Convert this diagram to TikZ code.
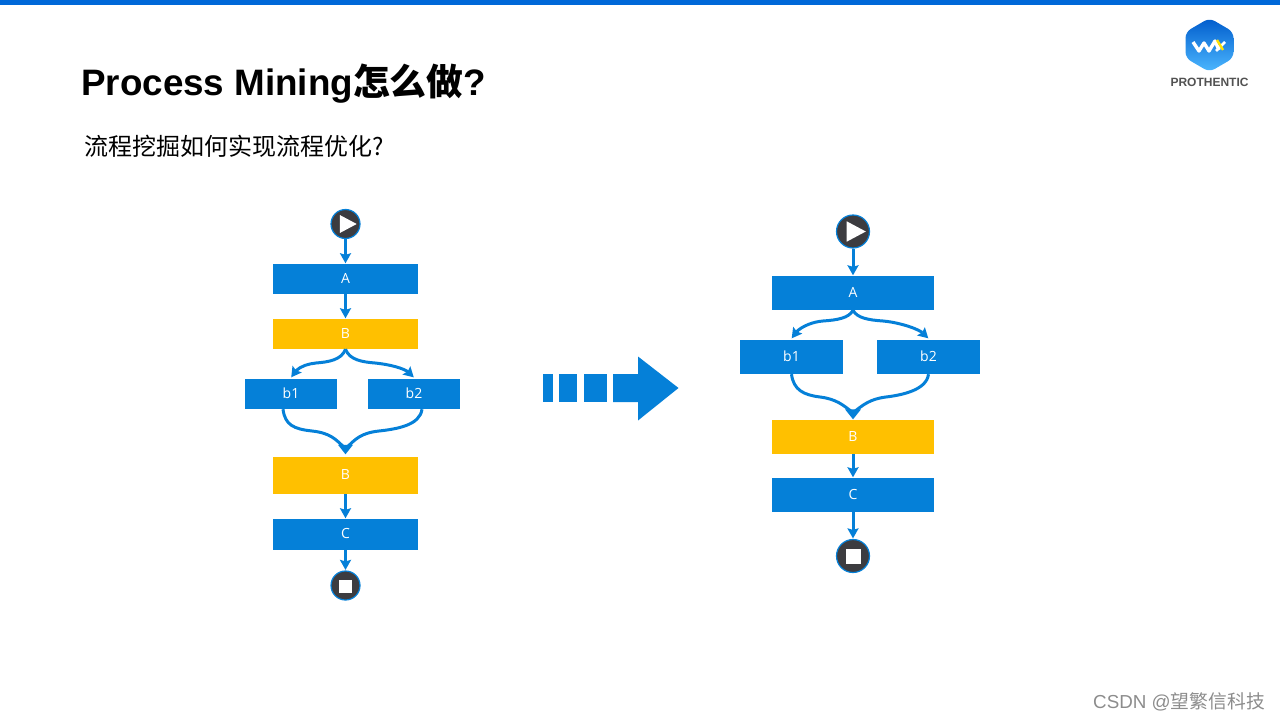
\documentclass[tikz,border=0pt]{standalone}
\usepackage{fontspec}
\setmainfont{Liberation Sans}
\newfontfamily\cjk{Noto Sans CJK SC}
\newfontfamily\boxfont{Open Sans}
\usetikzlibrary{arrows.meta,bending,calc}
\definecolor{flowblue}{HTML}{0580D8}
\definecolor{baryellow}{HTML}{FFC000}
\definecolor{discgray}{HTML}{3C3C40}
\definecolor{topblue}{HTML}{0068D8}
\tikzset{
    proc/.style={fill=#1,inner sep=0pt,text=white,text height=10pt,text depth=2pt,font=\boxfont\fontsize{14}{16}\selectfont},
    disc/.style={circle,draw=flowblue,fill=discgray,line width=1.2pt,inner sep=0pt,minimum size=#1},
    flow/.style={draw=flowblue,line width=3pt,-{Stealth[length=10pt,width=11pt,inset=1.5pt,flex=1]},shorten >=0.5pt},
    mergeline/.style={draw=flowblue,line width=3pt},
    mergetip/.style={fill=flowblue},
}
\newcommand{\playmark}[2]{\fill[white] ([shift={(-#2*0.4,-#2*0.64)}]#1.center)--([shift={(#2*0.8,0)}]#1.center)--([shift={(-#2*0.4,#2*0.64)}]#1.center)--cycle;}
\begin{document}
\begin{tikzpicture}[x=1pt,y=-1pt,line join=round]
\useasboundingbox (0,0) rectangle (1280,720);
\fill[topblue] (0,0) rectangle (1280,5);
% heading
\node[anchor=base west,inner sep=0pt,font=\fontsize{36.8}{40}\selectfont\bfseries] (title) at (81,95) {Process Mining{\cjk 怎么做}?};
\node[anchor=base west,inner sep=0pt,font=\cjk\fontsize{24}{28}\selectfont] (subtitle) at (84,155) {流程挖掘如何实现流程优化?};
% logo
\shade[top color=blue!55!cyan!80!black,bottom color=cyan!60!blue!70!white,rounded corners=6pt] (1209.5,18)--(1233.5,32)--(1233.5,58)--(1209.5,72)--(1185.5,58)--(1185.5,32)--cycle;
\draw[white,line width=3.4pt] (1193,42)--(1199,51)--(1204,43)--(1209,51)--(1215,41)--(1219,50);
\draw[white,line width=2.6pt] (1225,42)--(1216,51);
\draw[yellow!85!orange,line width=2.4pt] (1217,40)--(1223,50);
\node[inner sep=0pt,text=black!68,font=\fontsize{12}{14}\selectfont\bfseries] (brand) at (1209.5,82) {PROTHENTIC};
% left flow
\node[disc=29pt] (startL) at (345.5,224) {};
\playmark{startL}{14}
\node[proc=flowblue,minimum width=145pt,minimum height=30pt] (aL) at (345.5,279) {A};
\node[proc=baryellow,minimum width=145pt,minimum height=30pt] (bL) at (345.5,334) {B};
\node[proc=flowblue,minimum width=92pt,minimum height=30pt] (b1L) at (291,394) {b1};
\node[proc=flowblue,minimum width=92pt,minimum height=30pt] (b2L) at (414,394) {b2};
\node[proc=baryellow,minimum width=145pt,minimum height=37pt] (bbL) at (345.5,475.5) {B};
\node[proc=flowblue,minimum width=145pt,minimum height=31pt] (cL) at (345.5,534.5) {C};
\node[disc=29pt] (endL) at (345.5,585.5) {};
\fill[white] ($(endL.center)+(-6.5,-5.5)$) rectangle ($(endL.center)+(6.5,7)$);
\draw[flow] (startL)--(aL);
\draw[flow] (aL)--(bL);
\draw[flow] (bbL)--(cL);
\draw[flow] (cL)--(endL);
\draw[flow] (bL.south) .. controls +(-4,11) and +(12,-1) .. (316,363) .. controls +(-10,1) and +(4,-10) .. ([yshift=1pt]b1L.north);
\draw[flow] (bL.south) .. controls +(4,11) and +(-12,-1) .. (375,363) .. controls +(10,1) and +(-4,-10) .. ([yshift=1pt]b2L.north);
\draw[mergeline] ([xshift=-8pt]b1L.south) .. controls +(2,16) and +(-18,-2) .. (312,431) .. controls +(18,2) and +(-10,-10) .. ([yshift=8pt]bbL.north);
\draw[mergeline] ([xshift=8pt]b2L.south) .. controls +(-2,16) and +(18,-2) .. (379,431) .. controls +(-18,2) and +(10,-10) .. ([yshift=8pt]bbL.north);
\path[mergetip] ($(bbL.north)+(-7.5,-12)$)--($(bbL.north)+(7.5,-12)$)--($(bbL.north)+(0,-2.5)$)--cycle;
% block arrow
\fill[flowblue] (543,374) rectangle (553,402);
\fill[flowblue] (559,374) rectangle (577,402);
\fill[flowblue] (584,374) rectangle (606.5,402);
\fill[flowblue] (613,374)--(638,374)--(638,356.5)--(678.5,388)--(638,420.5)--(638,402)--(613,402)--cycle;
% right flow
\node[disc=33pt] (startR) at (853,231.5) {};
\playmark{startR}{16}
\node[proc=flowblue,minimum width=162pt,minimum height=34pt] (aR) at (853,293) {A};
\node[proc=flowblue,minimum width=103pt,minimum height=34pt] (b1R) at (791.5,357) {b1};
\node[proc=flowblue,minimum width=103pt,minimum height=34pt] (b2R) at (928.5,357) {b2};
\node[proc=baryellow,minimum width=162pt,minimum height=34pt] (bR) at (853,437) {B};
\node[proc=flowblue,minimum width=162pt,minimum height=34pt] (cR) at (853,495) {C};
\node[disc=33pt] (endR) at (853,556) {};
\fill[white] ($(endR.center)+(-7.5,-7.5)$) rectangle ($(endR.center)+(7.5,7.5)$);
\draw[flow] (startR)--(aR);
\draw[flow] (bR)--(cR);
\draw[flow] (cR)--(endR);
\draw[flow] (aR.south) .. controls +(-4,8) and +(14,-1) .. (823,321) .. controls +(-13,1) and +(4,-10) .. ([yshift=1pt]b1R.north);
\draw[flow] (aR.south) .. controls +(4,8) and +(-14,-1) .. (883,321) .. controls +(13,1) and +(-4,-10) .. ([yshift=1pt]b2R.north);
\draw[mergeline] (b1R.south) .. controls +(2,16) and +(-16,-2) .. (820,397) .. controls +(16,2) and +(-10,-8) .. ([yshift=7pt]bR.north);
\draw[mergeline] (b2R.south) .. controls +(-2,16) and +(16,-2) .. (886,397) .. controls +(-16,2) and +(10,-8) .. ([yshift=7pt]bR.north);
\path[mergetip] ($(bR.north)+(-8,-10.5)$)--($(bR.north)+(8,-10.5)$)--($(bR.north)+(0,-0.5)$)--cycle;
% watermark
\node[anchor=base east,inner sep=0pt,text=black!45,font=\fontsize{18.8}{22}\selectfont] (mark) at (1265,708) {CSDN @{\cjk 望繁信科技}};
\end{tikzpicture}
\end{document}
